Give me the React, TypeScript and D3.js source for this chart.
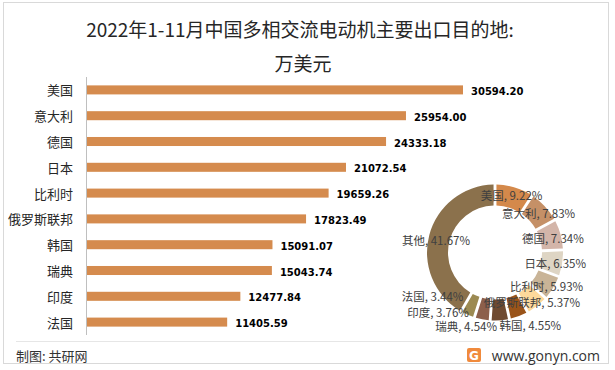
import * as d3 from "d3";

const W = 615;
const H = 370;

const TITLE_1 = "2022年1-11月中国多相交流电动机主要出口目的地:";
const TITLE_2 = "万美元";

const countries = ["美国", "意大利", "德国", "日本", "比利时", "俄罗斯联邦", "韩国", "瑞典", "印度", "法国"];
const exportValues = [30594.2, 25954.0, 24333.18, 21072.54, 19659.26, 17823.49, 15091.07, 15043.74, 12477.84, 11405.59];

const shareNames = ["美国", "意大利", "德国", "日本", "比利时", "俄罗斯联邦", "韩国", "瑞典", "印度", "法国", "其他"];
const sharePercents = [9.22, 7.83, 7.34, 6.35, 5.93, 5.37, 4.55, 4.54, 3.76, 3.44, 41.67];

const sliceColors = [
  "#d4894b", // 美国
  "#c59067", // 意大利
  "#d3b5a9", // 德国
  "#ded5c4", // 日本
  "#c9b497", // 比利时
  "#fdd99b", // 俄罗斯联邦
  "#9a5419", // 韩国
  "#6f4a30", // 瑞典
  "#8c5f4b", // 印度
  "#9c8a52", // 法国
  "#8b714c", // 其他
];

// labels that excel pushed off the centroid to avoid overlaps
const labelNudge: [number, number][] = [
  [0, -2], [1, 0], [2, 1], [3, 1], [2, 3], [1, 4], [15, 18], [-33, 16], [-46, 3], [-39, -10], [-3, 2],
];

const BAR_COLOR = "#d58b4e";
const FONT = "'Noto Sans CJK SC', 'Noto Sans', sans-serif";

const css = `body { margin: 0; }`;

export default function App() {
  const y = d3.scaleBand<string>().domain(countries).range([77, 335]).paddingInner(0.65).paddingOuter(0.325);
  const x = d3.scaleLinear().domain([0, d3.max(exportValues) as number]).range([87, 463]);
  const bw = y.bandwidth();

  const cx = 495;
  const cy = 252.5;
  const outerR = 68;
  const innerR = 47;

  const pie = d3.pie<number>().sort(null).value((d) => d)(sharePercents);
  const arc = d3.arc<d3.PieArcDatum<number>>().innerRadius(innerR).outerRadius(outerR).padAngle(0.035);
  const labelArc = d3.arc<d3.PieArcDatum<number>>().innerRadius(58).outerRadius(58);

  return (
    <>
      <style>{css}</style>
      <svg width={W} height={H} style={{ display: "block", fontFamily: FONT }}>
        <rect x={0} y={0} width={W} height={H} fill="#fff" />
        <rect x={3.5} y={2.5} width={605} height={361} fill="none" stroke="#d9d9d9" />

        <text x={300} y={37} textAnchor="middle" fontSize={19} fill="#262626">{TITLE_1}</text>
        <text x={303} y={71} textAnchor="middle" fontSize={19} fill="#262626">{TITLE_2}</text>

        <line x1={86.5} x2={86.5} y1={77} y2={335} stroke="#bfbfbf" />
        {countries.map((c, i) => {
          const yy = y(c) as number;
          const v = exportValues[i];
          return (
            <g key={c}>
              <rect x={x(0)} y={yy} width={x(v) - x(0)} height={bw} fill={BAR_COLOR} />
              <text x={73} y={yy + bw / 2} textAnchor="end" dominantBaseline="central" fontSize={13} fill="#262626">
                {c}
              </text>
              <text
                x={x(v) + 8}
                y={yy + bw / 2 + 1.5}
                dominantBaseline="central"
                fontSize={10}
                fontWeight="bold"
                fontFamily="'DejaVu Sans', sans-serif"
                fill="#000"
              >
                {v.toFixed(2)}
              </text>
            </g>
          );
        })}

        <g transform={`translate(${cx},${cy})`}>
          {pie.map((s, i) => (
            <path key={shareNames[i]} d={arc(s) as string} fill={sliceColors[i]} />
          ))}
          {pie.map((s, i) => {
            const [lx, ly] = labelArc.centroid(s);
            return (
              <text
                key={"l" + shareNames[i]}
                x={lx + labelNudge[i][0]}
                y={ly + labelNudge[i][1]}
                textAnchor="middle"
                dominantBaseline="central"
                fontSize={11.5}
                fill="#404040"
              >
                {`${shareNames[i]}, ${sharePercents[i].toFixed(2)}%`}
              </text>
            );
          })}
        </g>

        <line x1={16} x2={600} y1={341.5} y2={341.5} stroke="#e6e6e6" />
        <text x={16} y={361} fontSize={13} fill="#333">制图: 共研网</text>
        <rect x={467} y={348} width={14} height={14} rx={2} fill="#f08a3c" />
        <text x={474} y={359.5} textAnchor="middle" fontSize={12} fontWeight="bold" fill="#fff" fontFamily="'DejaVu Sans', sans-serif">G</text>
        <text x={600} y={361} textAnchor="end" fontSize={14} fill="#333" fontFamily="'Open Sans', sans-serif">www.gonyn.com</text>
      </svg>
    </>
  );
}
